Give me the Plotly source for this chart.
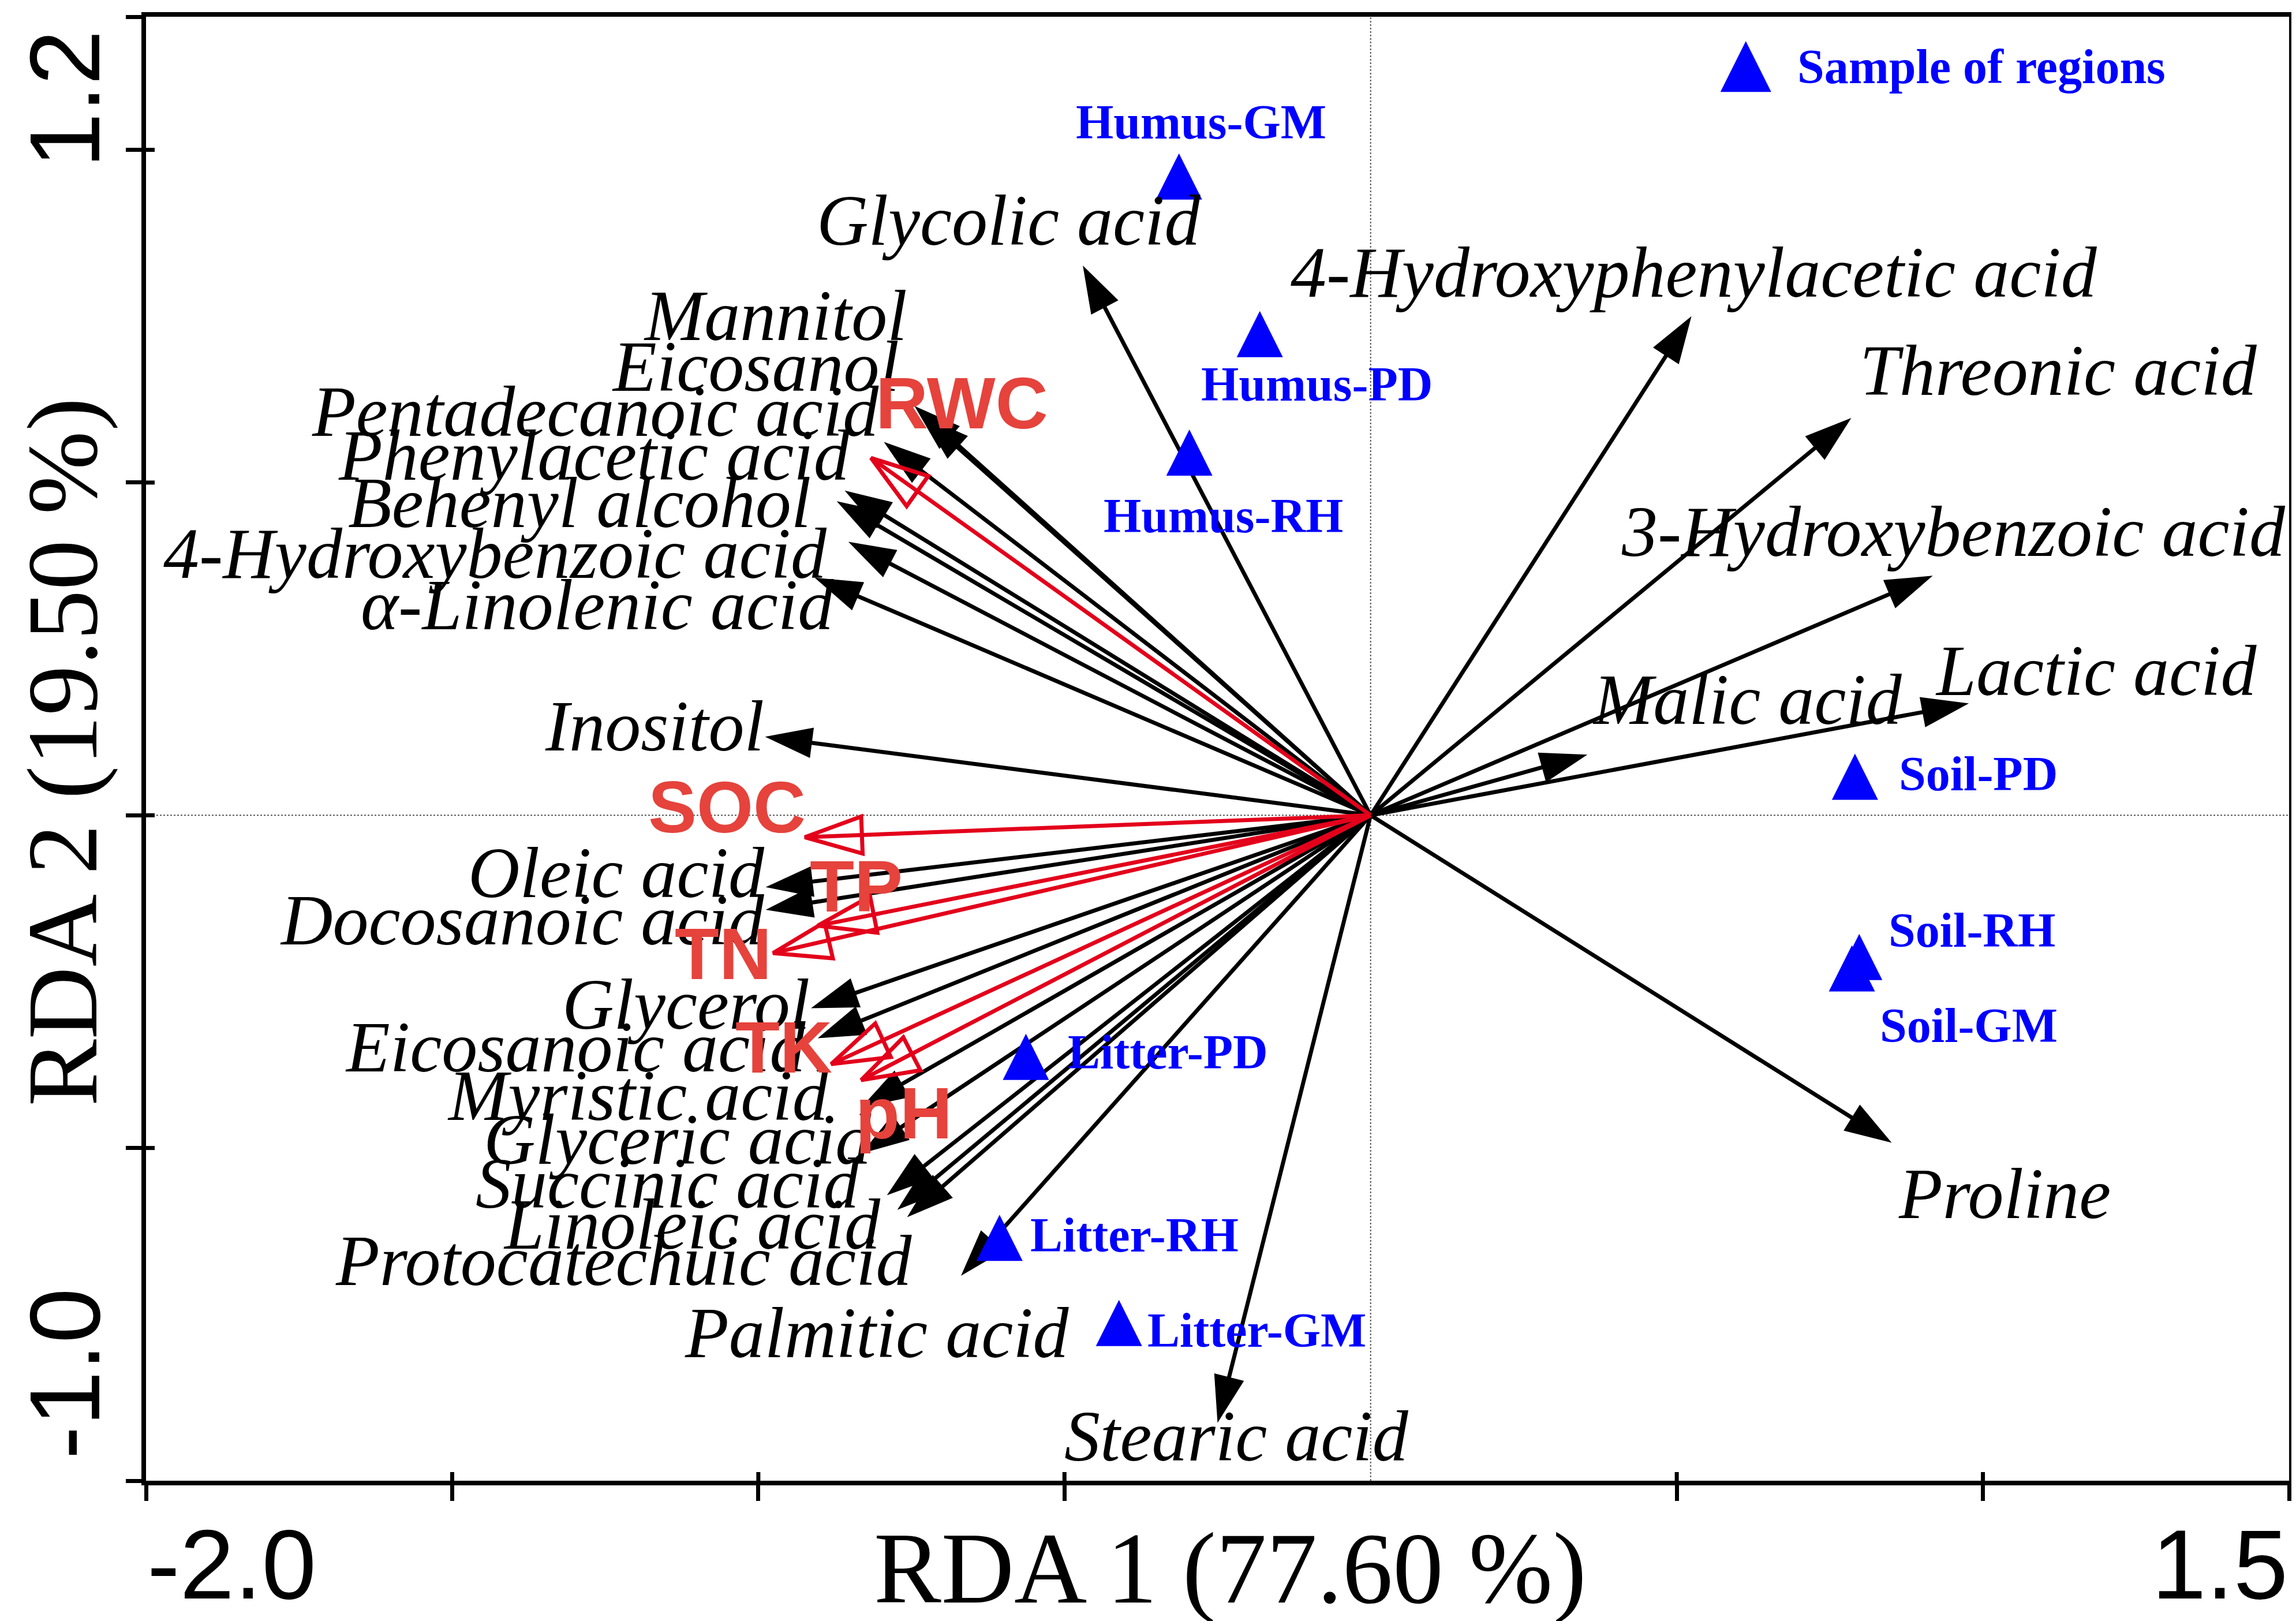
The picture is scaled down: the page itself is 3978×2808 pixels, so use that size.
import plotly.graph_objects as go

# ---------------- data ----------------
metabolites = [
    "Glycolic acid", "4-Hydroxyphenylacetic acid", "Threonic acid", "3-Hydroxybenzoic acid",
    "Lactic acid", "Malic acid", "Proline", "Stearic acid", "Inositol",
    "Mannitol", "Eicosanol", "Pentadecanoic acid", "Phenylacetic acid", "Behenyl alcohol",
    "4-Hydroxybenzoic acid", "α-Linolenic acid",
    "Oleic acid", "Docosanoic acid", "Glycerol", "Eicosanoic acid", "Myristic acid",
    "Glyceric acid", "Succinic acid", "Linoleic acid", "Protocatechuic acid", "Palmitic acid",
]
met_x = [-0.470, 0.524, 0.785, 0.918, 0.977, 0.354, 0.851, -0.250, -0.989,
         -0.732, -0.745, -0.795, -0.859, -0.872, -0.853, -0.908,
         -0.988, -0.988, -0.914, -0.903, -0.832, -0.831, -0.790, -0.773, -0.757, -0.669]
met_y = [0.826, 0.750, 0.597, 0.360, 0.168, 0.091, -0.492, -0.913, 0.118,
         0.600, 0.615, 0.561, 0.488, 0.472, 0.411, 0.357,
         -0.108, -0.142, -0.290, -0.335, -0.439, -0.508, -0.571, -0.593, -0.604, -0.692]
met_label_x = [-0.591, 0.528, 1.123, 0.952, 1.185, 0.615, 1.035, -0.219, -1.170,
               -0.972, -1.005, -1.266, -1.268, -1.292, -1.430, -1.263,
               -1.232, -1.385, -1.118, -1.299, -1.196, -1.132, -1.148, -1.108, -1.220, -0.806]
met_label_y = [0.893, 0.815, 0.668, 0.426, 0.217, 0.173, -0.569, -0.934, 0.133,
               0.750, 0.674, 0.606, 0.540, 0.469, 0.393, 0.316,
               -0.087, -0.158, -0.285, -0.349, -0.422, -0.488, -0.554, -0.615, -0.670, -0.778]

env_factors = ["RWC", "SOC", "TP", "TN", "TK", "pH"]
env_x = [-0.816, -0.924, -0.903, -0.976, -0.881, -0.832]
env_y = [0.537, -0.033, -0.166, -0.207, -0.374, -0.398]
env_label_x = [-0.668, -1.051, -0.840, -1.057, -0.958, -0.762]
env_label_y = [0.619, 0.012, -0.107, -0.208, -0.349, -0.448]

samples = ["Humus-GM", "Humus-PD", "Humus-RH", "Soil-PD", "Soil-RH", "Soil-GM",
           "Litter-PD", "Litter-RH", "Litter-GM"]
sample_x = [-0.313, -0.181, -0.296, 0.791, 0.798, 0.786, -0.563, -0.606, -0.411]
sample_y = [0.960, 0.723, 0.545, 0.058, -0.213, -0.230, -0.363, -0.635, -0.763]
sample_label_x = [-0.277, -0.088, -0.241, 0.992, 0.982, 0.977, -0.331, -0.386, -0.186]
sample_label_y = [1.042, 0.648, 0.450, 0.062, -0.173, -0.316, -0.356, -0.631, -0.774]

x_range = [-2.0, 1.5]
y_range = [-1.0, 1.2]
x_ticks = [-2.0, -1.5, -1.0, -0.5, 0.5, 1.0, 1.5]
y_ticks = [-1.0, -0.5, 0.0, 0.5, 1.0, 1.2]
x_inner_ticks = [-1.5, -1.0, -0.5, 0.5, 1.0]
y_inner_ticks = [-0.5, 0.0, 0.5, 1.0]
x_title = "RDA 1 (77.60 %)"
y_title = "RDA 2 (19.50 %)"
legend_text = "Sample of regions"

# ---------------- styles / layout ----------------
W, H = 3978, 2808
MARGIN = dict(l=245, r=16, t=21, b=251)
PLOT_H = H - MARGIN["t"] - MARGIN["b"]
Y_PX_PER_UNIT = PLOT_H / (y_range[1] - y_range[0])

SERIF = "Liberation Serif, Times New Roman, serif"
SANS = "Liberation Sans, Arial, sans-serif"
RED_LINE = "#E3001B"
RED_TEXT = "#E5433C"
BLUE = "#0000FF"
TRI_SIZE = 80          # sample triangle (px); 'arrow-up' has its apex at the point
LEG_TRI_SIZE = 88

fig = go.Figure()

# black metabolite arrows
for mx, my in zip(met_x, met_y):
    fig.add_trace(go.Scatter(
        x=[0, mx], y=[0, my], mode="lines+markers",
        line=dict(color="#000000", width=7),
        marker=dict(symbol="arrow", size=[0, 86], angleref="previous", opacity=1,
                    color="#000000", line=dict(width=0)),
        hoverinfo="skip", showlegend=False))

# red environmental arrows (hollow heads)
for ex, ey in zip(env_x, env_y):
    fig.add_trace(go.Scatter(
        x=[0, ex], y=[0, ey], mode="lines+markers",
        line=dict(color=RED_LINE, width=7),
        marker=dict(symbol="arrow-open", size=[0, 104], angleref="previous", opacity=1,
                    color=RED_LINE, line=dict(width=7, color=RED_LINE)),
        hoverinfo="skip", showlegend=False))

# samples: shift so the triangle is centred on its point
tri_shift = (TRI_SIZE / 2) / Y_PX_PER_UNIT
fig.add_trace(go.Scatter(
    x=sample_x, y=[v + tri_shift for v in sample_y], mode="markers",
    marker=dict(symbol="arrow-up", size=TRI_SIZE, color=BLUE, opacity=1, line=dict(width=0)),
    hoverinfo="skip", showlegend=False))

# legend symbol on an overlay axis in plot-fraction units
leg_shift = (LEG_TRI_SIZE / 2) / PLOT_H
fig.add_trace(go.Scatter(
    x=[0.7465], y=[0.966 + leg_shift], xaxis="x2", yaxis="y2", mode="markers",
    marker=dict(symbol="arrow-up", size=LEG_TRI_SIZE, color=BLUE, opacity=1, line=dict(width=0)),
    hoverinfo="skip", showlegend=False))

annotations = []
for t, lx, ly in zip(metabolites, met_label_x, met_label_y):
    annotations.append(dict(x=lx, y=ly, xref="x", yref="y", text="<i>%s</i>" % t,
                            showarrow=False, xanchor="center", yanchor="middle",
                            font=dict(family=SERIF, size=124, color="black")))
for t, lx, ly in zip(env_factors, env_label_x, env_label_y):
    annotations.append(dict(x=lx, y=ly, xref="x", yref="y", text="<b>%s</b>" % t,
                            showarrow=False, xanchor="center", yanchor="middle",
                            font=dict(family=SANS, size=126, color=RED_TEXT)))
for t, lx, ly in zip(samples, sample_label_x, sample_label_y):
    annotations.append(dict(x=lx, y=ly, xref="x", yref="y", text="<b>%s</b>" % t,
                            showarrow=False, xanchor="center", yanchor="middle",
                            font=dict(family=SERIF, size=84, color=BLUE)))
annotations.append(dict(x=0.770, y=0.966, xref="paper", yref="paper", text="<b>%s</b>" % legend_text,
                        showarrow=False, xanchor="left", yanchor="middle",
                        font=dict(family=SERIF, size=84, color=BLUE)))
# axis titles
annotations.append(dict(x=0.5058, y=-0.060, xref="paper", yref="paper", text=x_title,
                        showarrow=False, xanchor="center", yanchor="middle",
                        font=dict(family=SERIF, size=175, color="black")))
annotations.append(dict(x=-0.039, y=0.498, xref="paper", yref="paper", text=y_title,
                        showarrow=False, xanchor="center", yanchor="middle", textangle=-90,
                        font=dict(family=SERIF, size=174, color="black")))
# end tick labels
annotations.append(dict(x=x_range[0], y=-0.057, xref="x", yref="paper", text="%.1f" % x_range[0],
                        showarrow=False, xanchor="left", yanchor="middle",
                        font=dict(family=SANS, size=170, color="black")))
annotations.append(dict(x=x_range[1], y=-0.057, xref="x", yref="paper", text="%.1f" % x_range[1],
                        showarrow=False, xanchor="right", yanchor="middle",
                        font=dict(family=SANS, size=170, color="black")))
annotations.append(dict(x=-0.038, y=0.944, xref="paper", yref="paper", text="%.1f" % y_range[1],
                        showarrow=False, xanchor="center", yanchor="middle", textangle=-90,
                        font=dict(family=SANS, size=172, color="black")))
annotations.append(dict(x=-0.038, y=0.073, xref="paper", yref="paper", text="%.1f" % y_range[0],
                        showarrow=False, xanchor="center", yanchor="middle", textangle=-90,
                        font=dict(family=SANS, size=172, color="black")))

shapes = [
    dict(type="line", xref="x", yref="paper", x0=0, x1=0, y0=0, y1=1,
         line=dict(color="#555555", width=2, dash="dot"), layer="below"),
    dict(type="line", xref="paper", yref="y", x0=0, x1=1, y0=0, y1=0,
         line=dict(color="#555555", width=2, dash="dot"), layer="below"),
]
for xv in x_inner_ticks:
    shapes.append(dict(type="line", xref="x", yref="paper", x0=xv, x1=xv,
                       ysizemode="pixel", yanchor=0, y0=0, y1=15,
                       line=dict(color="black", width=7)))
for yv in y_inner_ticks:
    shapes.append(dict(type="line", xref="paper", yref="y", y0=yv, y1=yv,
                       xsizemode="pixel", xanchor=0, x0=0, x1=15,
                       line=dict(color="black", width=7)))

axis_common = dict(showgrid=False, zeroline=False, showline=True, linecolor="black",
                   linewidth=8, mirror=True, ticks="outside", ticklen=27, tickwidth=7,
                   tickcolor="black", showticklabels=False)

fig.update_layout(
    width=W, height=H,
    margin=MARGIN,
    paper_bgcolor="white", plot_bgcolor="white",
    xaxis=dict(range=x_range, tickvals=x_ticks, **axis_common),
    yaxis=dict(range=y_range, tickvals=y_ticks, **axis_common),
    xaxis2=dict(overlaying="x", range=[0, 1], visible=False),
    yaxis2=dict(overlaying="y", range=[0, 1], visible=False),
    annotations=annotations,
    shapes=shapes,
    showlegend=False,
)

fig.write_html("out.html")
